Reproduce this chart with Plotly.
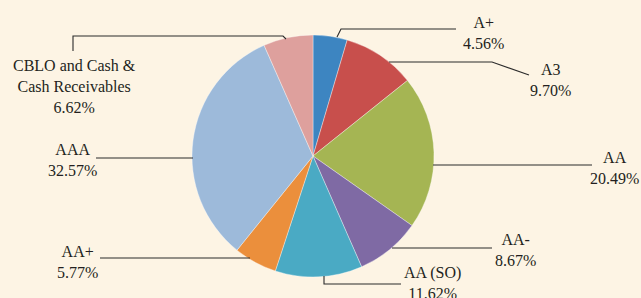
import plotly.graph_objects as go

# ---- data ----
categories = ["A+", "A3", "AA", "AA-", "AA (SO)", "AA+", "AAA", "CBLO and Cash & Cash Receivables"]
label_text = ["A+", "A3", "AA", "AA-", "AA (SO)", "AA+", "AAA", "CBLO and Cash &<br>Cash Receivables"]
values = [4.56, 9.70, 20.49, 8.67, 11.62, 5.77, 32.57, 6.62]
colors = ["#3D85C1", "#C84F4C", "#A5B553", "#7F6AA4", "#4AAAC4", "#EB8F3C", "#9DBADA", "#DEA09D"]

W, H = 641, 298
BG = "#FDF4E4"

# pie placement (pixels)
cx, cy, r = 313, 156, 121


def px(x):
    return x / W


def py(y):
    return 1 - y / H


fig = go.Figure(go.Pie(
    labels=categories,
    values=values,
    sort=False,
    direction="clockwise",
    rotation=0,
    marker=dict(colors=colors, line=dict(color="rgba(255,255,255,0.6)", width=0.6)),
    textinfo="none",
    hoverinfo="label+percent",
    domain=dict(x=[px(cx - r), px(cx + r)], y=[py(cy + r), py(cy - r)]),
    showlegend=False,
))

# label placement (layout, pixels): centre x, centre y of two-line block
label_pos = [(483, 33), (550, 80), (614, 168), (515, 250), (432, 283), (77, 262), (72, 160), (74, 86)]
# leader lines (layout, pixels)
leaders = [
    [(337, 37), (341, 29), (456, 29)],
    [(389, 62), (492, 62), (529, 75)],
    [(433, 165), (592, 165)],
    [(392, 248), (492, 248)],
    [(324, 276), (324, 284), (401, 284)],
    [(250, 258), (100, 258)],
    [(193, 158), (96, 158)],
    [(73, 51), (73, 36), (283, 36), (286, 39)],
]

annotations = []
for name, v, (lx, ly) in zip(label_text, values, label_pos):
    annotations.append(dict(
        x=px(lx), y=py(ly), xref="paper", yref="paper",
        text=f"{name}<br>{v:.2f}%", showarrow=False,
        xanchor="center", yanchor="middle", align="center",
        font=dict(family="Liberation Serif, serif", size=16, color="#231F20"),
    ))

shapes = []
for pts in leaders:
    path = "M " + " L ".join(f"{px(x):.5f},{py(y):.5f}" for x, y in pts)
    shapes.append(dict(type="path", path=path, xref="paper", yref="paper",
                       line=dict(color="#2B2B2B", width=1.1)))

fig.update_layout(
    width=W, height=H,
    margin=dict(l=0, r=0, t=0, b=0),
    paper_bgcolor=BG, plot_bgcolor=BG,
    annotations=annotations,
    shapes=shapes,
)

fig.write_html(
    "out.html",
    config={"displayModeBar": False},
    post_script="document.body.style.margin='0';document.body.style.padding='0';"
                "document.body.style.background='" + BG + "';document.body.style.overflow='hidden';",
)
